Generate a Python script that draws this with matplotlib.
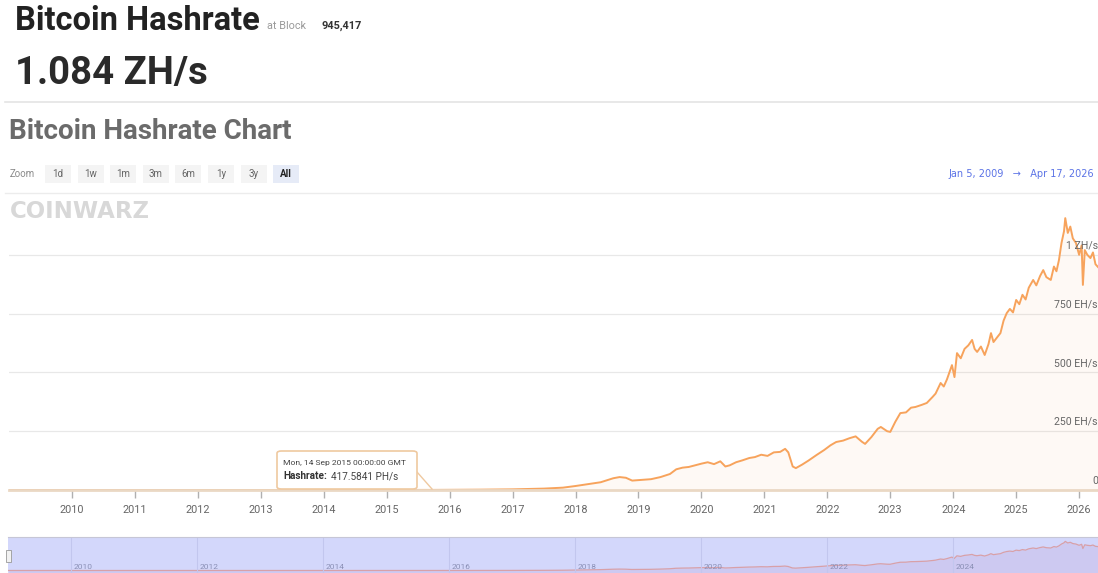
import matplotlib
matplotlib.use("Agg")
import matplotlib.pyplot as plt
from matplotlib.patches import FancyBboxPatch, Rectangle
from matplotlib.lines import Line2D

# Hashrate (x in fractional years, y in EH/s)
years = [
    2009.01, 2010.0, 2011.0, 2012.0, 2013.0, 2014.0, 2014.5, 2015.0, 2015.7, 2016.0,
    2016.5, 2017.0, 2017.5, 2017.8, 2018.0, 2018.2, 2018.4, 2018.6, 2018.7, 2018.8,
    2018.9, 2019.0, 2019.2, 2019.35, 2019.5, 2019.6, 2019.7, 2019.8, 2019.9, 2020.0,
    2020.1, 2020.2, 2020.3, 2020.38, 2020.45, 2020.55, 2020.65, 2020.76, 2020.85, 2020.95,
    2021.05, 2021.15, 2021.25, 2021.33, 2021.38, 2021.45, 2021.5, 2021.6, 2021.7, 2021.83,
    2021.95, 2022.05, 2022.14, 2022.25, 2022.35, 2022.45, 2022.55, 2022.6, 2022.7, 2022.8,
    2022.85, 2022.95, 2023.0, 2023.08, 2023.16, 2023.25, 2023.33, 2023.4, 2023.5, 2023.58,
    2023.67, 2023.72, 2023.8, 2023.85, 2023.9, 2023.98, 2024.02, 2024.06, 2024.12, 2024.18,
    2024.24, 2024.3, 2024.34, 2024.38, 2024.44, 2024.5, 2024.56, 2024.6, 2024.64, 2024.7,
    2024.75, 2024.8, 2024.85, 2024.9, 2024.95, 2025.0, 2025.05, 2025.1, 2025.15, 2025.2,
    2025.27, 2025.32, 2025.38, 2025.43, 2025.48, 2025.55, 2025.6, 2025.64, 2025.68, 2025.72,
    2025.76, 2025.78, 2025.82, 2025.86, 2025.9, 2025.95, 2026.0, 2026.04, 2026.06, 2026.09,
    2026.13, 2026.18, 2026.22, 2026.26, 2026.3,
]
hashrate = [
    0, 0, 0, 0, 0.02, 0.05, 0.15, 0.3, 0.42, 0.8,
    1.5, 2.8, 6, 10, 17, 25, 33, 50, 55, 52,
    40, 42, 46, 55, 68, 88, 95, 98, 105, 112,
    118, 110, 122, 100, 105, 118, 126, 136, 140, 150,
    145, 160, 162, 175, 160, 100, 93, 108, 125, 149,
    170, 190, 204, 210, 220, 228, 205, 196, 225, 260,
    268, 250, 247, 290, 327, 330, 350, 353, 362, 370,
    395, 410, 455, 440, 470, 531, 480, 582, 560, 600,
    615, 638, 600, 587, 610, 574, 620, 667, 629, 650,
    667, 720, 752, 770, 755, 808, 790, 830, 810, 860,
    893, 870, 910, 935, 905, 893, 950, 930, 978, 1050,
    1100, 1156, 1093, 1120, 1070, 1050, 1000, 1040, 872, 1020,
    1000, 986, 1010, 960, 948,
]

year_ticks = list(range(2010, 2027))
nav_ticks = [2010, 2012, 2014, 2016, 2018, 2020, 2022, 2024]
y_ticks = [0, 250, 500, 750, 1000]
y_labels = ["0", "250 EH/s", "500 EH/s", "750 EH/s", "1 ZH/s"]
zoom_buttons = ["1d", "1w", "1m", "3m", "6m", "1y", "3y", "All"]

W, H = 1098, 573
LINE = "#f7a35c"
GREY = "#666666"
FONT = "Roboto"


def fx(px):
    return px / W


def fy(py):
    return 1 - py / H


fig = plt.figure(figsize=(W / 100, H / 100), dpi=100)
fig.patch.set_facecolor("white")

# header
fig.text(fx(15), fy(30), "Bitcoin Hashrate", family=FONT, weight="bold",
         size=23.5, color="#222222", va="baseline")
fig.text(fx(267), fy(29), "at Block", family=FONT, size=7.8, color="#9a9a9a", va="baseline")
fig.text(fx(321), fy(29), "945,417", family=FONT, weight="bold", size=7.8,
         color="#333333", va="baseline")
fig.text(fx(15), fy(84), "1.084 ZH/s", family=FONT, weight="bold", size=27.5,
         color="#2a2a2a", va="baseline")
fig.add_artist(Line2D([fx(5), 1], [fy(102), fy(102)], color="#e4e4e4", lw=1.2))
fig.text(fx(9), fy(139), "Bitcoin Hashrate Chart", family=FONT, weight="bold",
         size=20, color="#6b6b6b", va="baseline")

# zoom buttons row
fig.text(fx(10), fy(174), "Zoom", family=FONT, size=7, color="#8a8a8a", va="center")
for i, lab in enumerate(zoom_buttons):
    cx = 58 + i * 32.6
    active = lab == "All"
    fig.add_artist(Rectangle((fx(cx - 13), fy(183)), fx(26), 18 / H,
                             facecolor="#e6ebf7" if active else "#f4f4f4",
                             edgecolor="none"))
    fig.text(fx(cx), fy(174), lab, family=FONT, size=7, ha="center", va="center",
             color="#222222" if active else "#666666",
             weight="bold" if active else "normal")
fig.text(fx(1094), fy(174), "Jan 5, 2009   \u2192   Apr 17, 2026", family=["DejaVu Sans"],
         size=7, color="#5b73e6", ha="right", va="center")
fig.add_artist(Line2D([fx(5), 1], [fy(193), fy(193)], color="#ececec", lw=1.0))

# main chart
ax = fig.add_axes([fx(9), fy(490), 1 - fx(9), (490 - 196) / H])
ax.set_xlim(2009.0, 2026.3)
ax.set_ylim(0, 1250)
ax.fill_between(years, hashrate, 0, color=LINE, alpha=0.06, lw=0)
ax.plot(years, hashrate, color=LINE, lw=1.4, solid_joinstyle="round")
for v in y_ticks[1:]:
    ax.axhline(v, color="#e8e8e8", lw=0.9, zorder=0)
for s in ["top", "right", "left"]:
    ax.spines[s].set_visible(False)
ax.spines["bottom"].set_color("#ead8c4")
ax.spines["bottom"].set_linewidth(2)
ax.set_yticks([])
ax.set_xticks(year_ticks)
ax.set_xticklabels([str(y) for y in year_ticks], family=FONT, size=7.8, color=GREY)
ax.tick_params(axis="x", length=6, width=1, color="#b0b0b0", pad=5)
for v, lab in zip(y_ticks, y_labels):
    ax.text(2026.3, v + 18, lab, family=FONT, size=7.6, color=GREY,
            ha="right", va="bottom")

# watermark
ax.text(0.0008, 0.985, "COINWARZ", transform=ax.transAxes, family="DejaVu Sans",
        weight="heavy", size=16.5, color="#d8d8d8", ha="left", va="top")

# tooltip
tip = FancyBboxPatch((fx(277), fy(489)), fx(140), 38 / H,
                     boxstyle="round,pad=0,rounding_size=0.004",
                     transform=fig.transFigure, facecolor="white",
                     edgecolor="#efc9a0", lw=1.2, zorder=5)
fig.add_artist(tip)
fig.add_artist(Line2D([fx(417), fx(432)], [fy(472), fy(489)], color="#efc9a0", lw=1.0))
fig.text(fx(283), fy(463), "Mon, 14 Sep 2015 00:00:00 GMT", family=FONT, size=6.1,
         color="#444444", va="center", zorder=6)
fig.text(fx(283), fy(476), "Hashrate:", family=FONT, size=7.2, weight="bold",
         color="#333333", va="center", zorder=6)
fig.text(fx(331), fy(476), "417.5841 PH/s", family=FONT, size=7.2,
         color="#444444", va="center", zorder=6)

# navigator
nav = fig.add_axes([fx(8), 0, 1 - fx(8), 36 / H])
nav.set_facecolor("#d3d7fb")
nav.set_xlim(2009.0, 2026.3)
nav.set_ylim(-100, 1330)
nav.fill_between(years, hashrate, -100, color="#c7b9e6", alpha=0.45, lw=0)
nav.plot(years, hashrate, color="#d8a0a8", lw=0.9)
for t in nav_ticks:
    nav.axvline(t, color="#c2c6ee", lw=0.8)
    nav.text(t + 0.04, 0, str(t), family=FONT, size=6, color="#8a8fb5",
             ha="left", va="bottom")
nav.set_xticks([])
nav.set_yticks([])
for s in nav.spines.values():
    s.set_visible(False)
nav.spines["top"].set_visible(True)
nav.spines["top"].set_color("#c6c6d6")
fig.add_artist(Rectangle((fx(6), fy(562)), fx(5), 12 / H, facecolor="#f2f2f2",
                         edgecolor="#999999", lw=0.6))

fig.savefig("out.png", dpi=100, facecolor="white")
